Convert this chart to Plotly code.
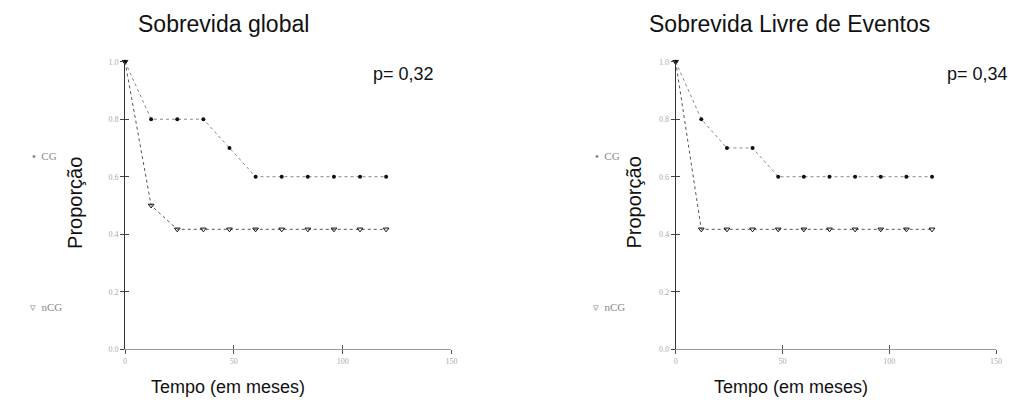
import plotly.graph_objects as go

W, H = 1018, 408

months = [0, 12, 24, 36, 48, 60, 72, 84, 96, 108, 120]
global_cg = [1.0, 0.8, 0.8, 0.8, 0.7, 0.6, 0.6, 0.6, 0.6, 0.6, 0.6]
global_ncg = [1.0, 0.5, 0.417, 0.417, 0.417, 0.417, 0.417, 0.417, 0.417, 0.417, 0.417]
event_cg = [1.0, 0.8, 0.7, 0.7, 0.6, 0.6, 0.6, 0.6, 0.6, 0.6, 0.6]
event_ncg = [1.0, 0.417, 0.417, 0.417, 0.417, 0.417, 0.417, 0.417, 0.417, 0.417, 0.417]

x_ticks = [0, 50, 100, 150]
y_ticks = [0.0, 0.2, 0.4, 0.6, 0.8, 1.0]
y_tick_labels = ["0.0", "0.2", "0.4", "0.6", "0.8", "1.0"]

titles = ["Sobrevida global", "Sobrevida Livre de Eventos"]
p_values = ["p= 0,32", "p= 0,34"]

def px(x):
    return x / W

def py(y):
    return 1 - y / H

fig = go.Figure()

panels = [
    dict(cg=global_cg, ncg=global_ncg, xa="x", ya="y"),
    dict(cg=event_cg, ncg=event_ncg, xa="x2", ya="y2"),
]

for p in panels:
    fig.add_trace(go.Scatter(
        x=months, y=p["ncg"], xaxis=p["xa"], yaxis=p["ya"], mode="lines+markers",
        line=dict(color="#555555", width=1, dash="dot"),
        marker=dict(symbol="triangle-down-open", size=5, color="#111111", line=dict(width=1)),
        cliponaxis=False, showlegend=False, name="nCG"))
    fig.add_trace(go.Scatter(
        x=months, y=p["cg"], xaxis=p["xa"], yaxis=p["ya"], mode="lines+markers",
        line=dict(color="#888888", width=1, dash="dot"),
        marker=dict(symbol="circle", size=4, color="#111111"),
        cliponaxis=False, showlegend=False, name="CG"))

ydom = [py(353), py(59)]
xdoms = [[px(124), px(453)], [px(679), px(1002)]]

tickfont = dict(family="Liberation Serif", size=8, color="#aaaaaa")

common_x = dict(range=[0, 150], tickvals=x_ticks, ticks="outside", ticklen=4,
                tickcolor="#555", showline=True, linecolor="#999", linewidth=1,
                showgrid=False, zeroline=False, tickfont=tickfont)
common_y = dict(range=[0, 1.0], tickvals=y_ticks, ticktext=y_tick_labels, ticks="outside",
                ticklen=4, tickcolor="#444", showline=True, linecolor="#333", linewidth=1,
                showgrid=False, zeroline=False, tickfont=tickfont)

def overlay_x(dom, anchor, over):
    return dict(domain=dom, anchor=anchor, overlaying=over, range=[0, 150], tickvals=x_ticks,
                ticks="inside", ticklen=4, tickcolor="#555", showticklabels=False,
                showgrid=False, zeroline=False, showline=False)

def overlay_y(anchor, over):
    return dict(domain=ydom, anchor=anchor, overlaying=over, range=[0, 1.0], tickvals=y_ticks,
                ticks="inside", ticklen=4, tickcolor="#444", showticklabels=False,
                showgrid=False, zeroline=False, showline=False)

fig.update_layout(
    width=W, height=H, margin=dict(l=0, r=0, t=0, b=0),
    paper_bgcolor="white", plot_bgcolor="white",
    xaxis=dict(domain=xdoms[0], anchor="y", **common_x),
    yaxis=dict(domain=ydom, anchor="x", **common_y),
    xaxis2=dict(domain=xdoms[1], anchor="y2", **common_x),
    yaxis2=dict(domain=ydom, anchor="x2", **common_y),
    xaxis3=overlay_x(xdoms[0], "y3", "x"),
    yaxis3=overlay_y("x3", "y"),
    xaxis4=overlay_x(xdoms[1], "y4", "x2"),
    yaxis4=overlay_y("x4", "y2"),
)

fig.add_trace(go.Scatter(x=[None], y=[None], xaxis="x3", yaxis="y3", showlegend=False, hoverinfo="skip"))
fig.add_trace(go.Scatter(x=[None], y=[None], xaxis="x4", yaxis="y4", showlegend=False, hoverinfo="skip"))

sans = "Liberation Sans, Arial, sans-serif"
ann = []
ann.append(dict(x=px(223), y=py(20), text=titles[0], font=dict(family=sans, size=23, color="#111")))
ann.append(dict(x=px(794), y=py(20), text=titles[1], font=dict(family=sans, size=23, color="#111")))
ann.append(dict(x=px(405), y=py(72), text=p_values[0], font=dict(family=sans, size=18, color="#111")))
ann.append(dict(x=px(983), y=py(72), text=p_values[1], font=dict(family=sans, size=18, color="#111")))
for cx in (228, 795):
    ann.append(dict(x=px(cx), y=py(392), text="Tempo (em meses)", font=dict(family=sans, size=18, color="#111")))
for cx in (73, 637):
    ann.append(dict(x=px(cx), y=py(203), text="Proporção", textangle=-90, font=dict(family=sans, size=20, color="#111")))
legfont = dict(family="Liberation Serif", size=11, color="#888")
for lx in (28, 596):
    ann.append(dict(x=px(lx), y=py(155), text="<b>•</b>  CG", xanchor="left", font=legfont))
    ann.append(dict(x=px(lx - 2), y=py(310), text="▿  nCG", xanchor="left", font=legfont))

for a in ann:
    a.setdefault("xanchor", "center")
    a.update(xref="paper", yref="paper", yanchor="middle", showarrow=False)
fig.update_layout(annotations=ann)

fig.write_html("out.html")
